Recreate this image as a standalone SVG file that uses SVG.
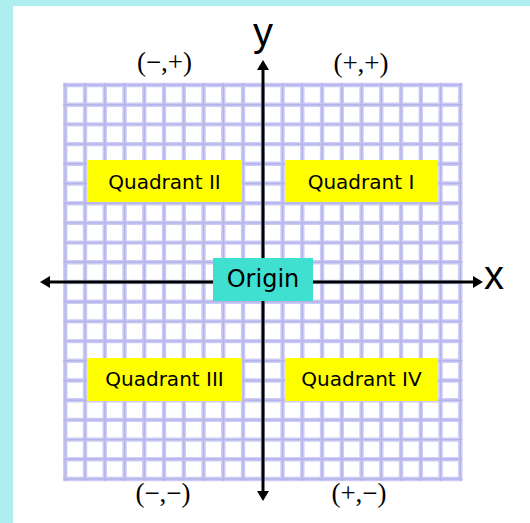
<svg xmlns="http://www.w3.org/2000/svg" width="530" height="523" viewBox="0 0 530 523">
<style>
.grid-band{fill:none;stroke:#cbcbf5;stroke-width:4.4}
.grid-core{fill:none;stroke:#b4b4ea;stroke-width:1.4}
.axis{stroke:#000;stroke-width:3;fill:none}
.qbox{fill:#ffff00}
.qtext{font-family:"DejaVu Sans",sans-serif;font-size:20px;fill:#000;text-anchor:middle}
.sign{font-family:"Liberation Serif",serif;font-size:27px;fill:#000;text-anchor:middle}
.axlabel{font-family:"Liberation Sans",Arial,sans-serif;font-size:40px;fill:#000}
</style>
<defs>
<marker id="arrow" viewBox="0 0 10 12" refX="0" refY="6" markerWidth="10" markerHeight="12" markerUnits="userSpaceOnUse" orient="auto-start-reverse">
<path d="M0,0 L10,6 L0,12 z" fill="#000"/>
</marker>
<path id="gridpath" d="M65.3,83V481M85.05,83V481M104.8,83V481M124.55,83V481M144.3,83V481M164.05,83V481M183.8,83V481M203.55,83V481M223.3,83V481M243.05,83V481M262.8,83V481M282.55,83V481M302.3,83V481M322.05,83V481M341.8,83V481M361.55,83V481M381.3,83V481M401.05,83V481M420.8,83V481M440.55,83V481M460.3,83V481M63.2,85H462.4M63.2,104.7H462.4M63.2,124.4H462.4M63.2,144.1H462.4M63.2,163.8H462.4M63.2,183.5H462.4M63.2,203.2H462.4M63.2,222.9H462.4M63.2,242.6H462.4M63.2,262.3H462.4M63.2,282H462.4M63.2,301.7H462.4M63.2,321.4H462.4M63.2,341.1H462.4M63.2,360.8H462.4M63.2,380.5H462.4M63.2,400.2H462.4M63.2,419.9H462.4M63.2,439.6H462.4M63.2,459.3H462.4M63.2,479H462.4"/>
</defs>
<rect x="0" y="0" width="530" height="523" fill="#afeeee"/>
<rect x="13" y="6" width="517" height="517" fill="#ffffff"/>
<g id="grid">
<use href="#gridpath" class="grid-band"/>
<use href="#gridpath" class="grid-core"/>
</g>
<g id="quadrant-2"><rect class="qbox" x="87" y="160" width="155" height="42"/><text class="qtext" x="164.5" y="189">Quadrant II</text></g>
<g id="quadrant-1"><rect class="qbox" x="285" y="160" width="153" height="42"/><text class="qtext" x="361" y="189">Quadrant I</text></g>
<g id="quadrant-3"><rect class="qbox" x="87" y="358" width="155" height="43"/><text class="qtext" x="164.5" y="386">Quadrant III</text></g>
<g id="quadrant-4"><rect class="qbox" x="285" y="358" width="153" height="43"/><text class="qtext" x="361.5" y="386">Quadrant IV</text></g>
<g id="connectors">
<line class="axis" x1="263" y1="491" x2="263" y2="70" marker-start="url(#arrow)" marker-end="url(#arrow)"/>
<line class="axis" x1="50" y1="282" x2="473" y2="282" marker-start="url(#arrow)" marker-end="url(#arrow)"/>
</g>
<g id="origin"><rect x="213" y="258" width="100" height="43" fill="#40e0d0"/><text x="263" y="287" font-family="DejaVu Sans, sans-serif" font-size="24" text-anchor="middle" fill="#000">Origin</text></g>
<g id="label-y"><text class="axlabel" x="263" y="46" text-anchor="middle">y</text></g>
<g id="label-x"><text class="axlabel" x="484" y="289">x</text></g>
<g id="sign-2"><text class="sign" x="164.5" y="71">(−,+)</text></g>
<g id="sign-1"><text class="sign" x="361" y="72">(+,+)</text></g>
<g id="sign-3"><text class="sign" x="163" y="502">(−,−)</text></g>
<g id="sign-4"><text class="sign" x="359" y="502">(+,−)</text></g>
</svg>
